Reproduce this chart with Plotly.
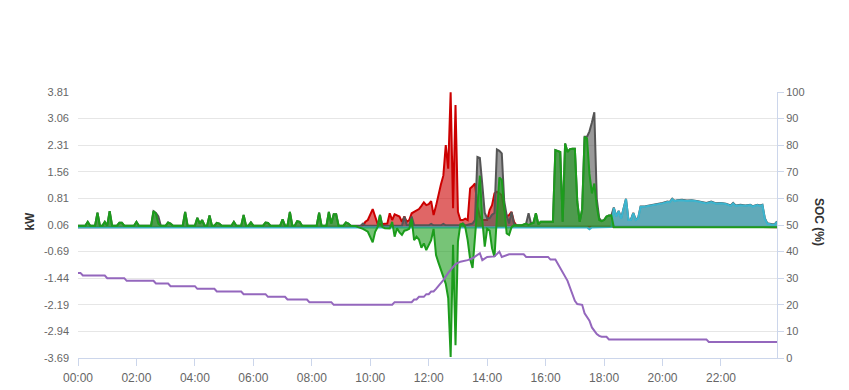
import plotly.graph_objects as go

DAY = "2024-01-01 "

# ---------------- data ----------------
# Battery power (kW): + discharge, - charge
BAT_T = ["00:00","00:15","00:20","00:25","00:35","00:40","00:45","00:50","00:55","01:00",
         "01:05","01:10","01:20","01:25","01:30","01:35","01:55","02:00","02:05","02:30",
         "02:35","02:40","02:45","02:50","03:00","03:05","03:10","03:15","03:35","03:40",
         "03:45","04:00","04:05","04:10","04:15","04:20","04:25","04:30","04:35","04:40",
         "04:45","04:50","04:55","05:15","05:20","05:25","05:35","05:40","05:45","05:50",
         "05:55","06:00","06:20","06:25","06:30","06:35","06:55","07:00","07:05","07:10",
         "07:15","07:20","07:25","07:30","07:35","07:40","08:10","08:15","08:20","08:30",
         "08:35","08:40","08:45","08:50","08:55","09:05","09:10","09:15","09:20","09:30",
         "09:35","09:45","09:55","10:05","10:10","10:15","10:20","10:25","10:30","10:40",
         "10:45","10:50","10:55","11:00","11:05","11:10","11:15","11:20","11:25","11:30",
         "11:35","11:40","11:45","11:50","11:55","12:00","12:05","12:10","12:15","12:20",
         "12:25","12:30","12:35","12:40","12:45","12:50","12:55","13:00","13:05","13:10",
         "13:15","13:20","13:25","13:30","13:35","13:40","13:45","13:50","13:55","14:00",
         "14:05","14:10","14:15","14:20","14:25","14:30","14:35","14:40","14:45","14:50",
         "14:55","15:10","15:20","15:25","15:30","15:35","15:40","15:45","15:50","16:15",
         "16:20","16:25","16:30","16:35","16:40","16:45","16:50","16:55","17:00","17:05",
         "17:10","17:15","17:20","17:25","17:30","17:35","17:40","17:45","17:50","17:55",
         "18:00","18:05","18:10","18:15","18:20","23:55"]
BAT_KW = [0.04,0.04,0.15,0.04,0.04,0.41,0.04,0.04,0.15,0.04,
          0.45,0.04,0.04,0.12,0.12,0.04,0.04,0.15,0.04,0.04,
          0.45,0.38,0.10,0.04,0.04,0.13,0.10,0.04,0.04,0.43,
          0.04,0.04,0.26,0.10,0.20,0.04,0.04,0.33,0.04,0.04,
          0.12,0.10,0.04,0.04,0.15,0.04,0.04,0.34,0.04,0.04,
          0.13,0.04,0.04,0.13,0.12,0.04,0.04,0.22,0.04,0.04,
          0.43,0.04,0.04,0.17,0.15,0.04,0.04,0.41,0.04,0.04,
          0.43,0.10,0.36,0.36,0.04,0.04,0.13,0.10,0.04,0.03,
          0.00,-0.05,-0.13,-0.43,-0.13,0.00,0.34,0.00,-0.03,-0.04,
          0.15,-0.27,-0.03,-0.15,-0.22,-0.10,-0.08,-0.05,0.24,-0.37,
          -0.27,-0.35,-0.58,-0.46,-0.65,-0.50,-0.37,-0.05,-0.79,-1.00,
          -1.20,-1.40,-1.60,-2.00,-3.66,-0.50,-3.33,-0.41,0.08,0.10,
          0.00,-0.37,-0.90,-1.15,-0.30,0.50,1.45,0.20,-0.55,-0.05,
          -0.10,-0.60,-0.84,0.30,1.40,1.33,0.57,-0.18,-0.22,0.00,
          0.05,0.05,0.10,0.06,0.10,0.12,0.39,0.08,0.15,0.15,
          2.17,2.15,2.12,0.15,2.36,2.12,2.20,2.21,2.21,0.71,
          0.15,0.50,2.55,2.50,1.50,0.95,1.23,0.60,0.20,0.17,
          0.20,0.30,0.33,0.33,0.00,0.00]

# House load (kW)
LOAD_T = ["00:00","00:15","00:20","00:25","00:35","00:40","00:45","00:50","00:55","01:00",
          "01:05","01:10","01:20","01:25","01:30","01:35","01:55","02:00","02:05","02:30",
          "02:35","02:40","02:45","02:50","03:00","03:05","03:10","03:15","03:35","03:40",
          "03:45","04:00","04:05","04:10","04:15","04:20","04:25","04:30","04:35","04:40",
          "04:45","04:50","04:55","05:15","05:20","05:25","05:35","05:40","05:45","05:50",
          "05:55","06:00","06:20","06:25","06:30","06:35","06:55","07:00","07:05","07:10",
          "07:15","07:20","07:25","07:30","07:35","07:40","08:10","08:15","08:20","08:30",
          "08:35","08:40","08:45","08:50","08:55","09:05","09:10","09:15","09:20","09:30",
          "09:40","09:45","09:50","10:15","10:20","10:25","11:05","11:10","11:15","11:20",
          "11:25","11:30","12:00","12:05","12:10","12:25","12:30","12:35","13:05","13:10",
          "13:15","13:30","13:35","13:40","13:45","13:50","13:55","14:00","14:05","14:10",
          "14:15","14:20","14:25","14:30","14:35","14:40","14:45","14:50","14:55","15:00",
          "15:10","15:20","15:25","15:30","15:35","15:40","15:45","15:50","16:15","16:20",
          "16:25","16:30","16:35","16:40","16:45","16:50","16:55","17:00","17:05","17:10",
          "17:15","17:20","17:25","17:30","17:35","17:40","17:45","17:50","17:55","18:00",
          "18:05","18:10","18:15","18:20","18:25","18:30","18:35","18:40","18:45","18:50",
          "18:55","19:00","19:05","19:10","19:15","19:25","19:35","19:45","19:55","20:00",
          "20:10","20:15","20:20","20:25","20:30","20:40","20:50","21:00","21:10","21:20",
          "21:30","21:40","21:50","22:00","22:10","22:20","22:25","22:30","22:40","22:50",
          "23:00","23:05","23:15","23:20","23:25","23:30","23:35","23:45","23:50","23:55"]
LOAD_KW = [0.04,0.04,0.15,0.04,0.04,0.41,0.04,0.04,0.15,0.04,
           0.45,0.04,0.04,0.12,0.12,0.04,0.04,0.15,0.04,0.04,
           0.45,0.40,0.30,0.04,0.04,0.13,0.10,0.04,0.04,0.43,
           0.04,0.04,0.26,0.10,0.20,0.04,0.04,0.33,0.04,0.04,
           0.12,0.10,0.04,0.04,0.15,0.04,0.04,0.34,0.04,0.04,
           0.13,0.04,0.04,0.13,0.12,0.04,0.04,0.22,0.04,0.04,
           0.43,0.04,0.04,0.17,0.15,0.04,0.04,0.41,0.04,0.04,
           0.43,0.10,0.36,0.36,0.04,0.04,0.13,0.10,0.04,0.04,
           0.04,0.10,0.04,0.04,0.34,0.04,0.04,0.30,0.05,0.05,
           0.30,0.05,0.05,0.09,0.05,0.05,0.09,0.05,0.05,0.10,
           0.05,0.10,0.20,1.98,1.95,1.20,0.40,0.25,0.25,0.35,
           0.40,2.19,2.15,2.08,0.73,0.34,0.10,0.43,0.10,0.05,
           0.05,0.10,0.39,0.10,0.12,0.39,0.08,0.15,0.15,2.17,
           2.15,2.12,0.15,2.36,2.12,2.20,2.21,2.21,0.71,0.15,
           0.50,2.55,2.55,2.70,2.95,3.24,0.80,0.25,0.17,0.20,
           0.30,0.33,0.33,0.55,0.31,0.46,0.25,0.51,0.80,0.21,
           0.21,0.40,0.21,0.26,0.58,0.59,0.61,0.63,0.67,0.68,
           0.72,0.71,0.80,0.74,0.76,0.77,0.75,0.76,0.74,0.71,
           0.68,0.72,0.67,0.68,0.66,0.61,0.68,0.61,0.63,0.61,
           0.63,0.59,0.63,0.61,0.63,0.25,0.11,0.08,0.08,0.16]

# PV production (kW)
PV_T = ["00:00","09:35","09:40","09:45","09:50","09:55","10:00","10:05","10:10","10:15",
        "10:20","10:30","10:35","10:40","10:45","10:50","10:55","11:00","11:05","11:10",
        "11:15","11:20","11:25","11:30","11:35","11:40","11:45","11:50","11:55","12:00",
        "12:05","12:10","12:15","12:20","12:25","12:30","12:35","12:40","12:45","12:50",
        "12:55","13:00","13:05","13:10","13:15","13:20","13:25","13:30","13:35","13:40",
        "13:45","13:50","13:55","14:00","14:05","14:10","14:15","14:20","14:25","14:30",
        "14:35","14:40","14:45","14:50","14:55","15:00","15:05","16:00","16:05","23:55"]
PV_KW = [0.00,0.00,0.02,0.05,0.15,0.20,0.35,0.51,0.30,0.10,
         0.08,0.08,0.10,0.39,0.20,0.36,0.32,0.30,0.15,0.30,
         0.15,0.20,0.39,0.43,0.48,0.51,0.60,0.70,0.62,0.65,
         0.73,0.34,0.60,0.95,1.20,1.45,2.31,1.65,3.80,0.53,
         3.44,0.43,0.20,0.20,0.24,0.20,1.09,1.15,1.23,0.57,
         0.30,0.20,0.20,0.20,0.48,0.62,0.95,1.00,0.95,0.90,
         0.50,0.30,0.34,0.43,0.15,0.05,0.02,0.02,0.00,0.00]

# Grid import (kW)
GRID_T = ["00:00","17:25","17:30","17:35","18:15","18:20","18:25","18:30","18:35","18:40",
          "18:45","18:50","18:55","19:00","19:05","19:10","19:15","19:25","19:35","19:45",
          "19:55","20:00","20:10","20:15","20:20","20:25","20:30","20:40","20:50","21:00",
          "21:10","21:20","21:30","21:40","21:50","22:00","22:10","22:20","22:25","22:30",
          "22:40","22:50","23:00","23:05","23:15","23:20","23:25","23:30","23:35","23:45",
          "23:50","23:55"]
GRID_KW = [-0.01,-0.01,-0.06,-0.01,0.00,0.54,0.30,0.45,0.24,0.50,
           0.79,0.20,0.20,0.39,0.20,0.25,0.57,0.58,0.60,0.62,
           0.66,0.67,0.71,0.70,0.79,0.73,0.75,0.76,0.74,0.75,
           0.73,0.70,0.67,0.71,0.66,0.67,0.65,0.60,0.67,0.60,
           0.62,0.60,0.62,0.58,0.62,0.60,0.62,0.24,0.10,0.07,
           0.07,0.15]

# Battery state of charge (%)
SOC_T = ["00:00","00:05","00:10","00:55","01:00","01:35","01:40","02:35","02:40","03:05",
         "03:10","04:00","04:05","04:40","04:45","05:35","05:40","06:25","06:30","07:05",
         "07:10","07:50","07:55","08:40","08:45","10:45","10:50","11:25","11:30","11:35",
         "11:40","11:50","11:55","12:00","12:05","12:10","12:15","12:20","12:30","12:40",
         "12:45","12:55","13:05","13:20","13:30","13:40","13:45","13:50","14:00","14:15",
         "14:25","14:30","14:45","15:15","15:20","16:05","16:10","16:20","16:30","16:45",
         "17:00","17:05","17:15","17:20","17:30","17:35","17:45","17:50","17:55","18:05",
         "18:10","21:30","21:35","23:55"]
SOC = [32,32,31,31,30,30,29,29,28,28,
       27,27,26,26,25,25,24,24,23,23,
       22,22,21,21,20,20,21,21,22,22,
       23,23,24,24,25,25,26,27,29.3,32,
       33,35.3,36.2,36.8,37.5,38.7,39.4,36.8,38,38.2,
       40,38,39,39,38,38,37,37,34,29,
       21.5,20.3,20,16.8,14,11.5,9,8.3,8,8,
       7,7,6,6]

KW_TICKS = [3.81, 3.06, 2.31, 1.56, 0.81, 0.06, -0.69, -1.44, -2.19, -2.94, -3.69]
SOC_TICKS = [0, 10, 20, 30, 40, 50, 60, 70, 80, 90, 100]
X_TICKS = ["00:00","02:00","04:00","06:00","08:00","10:00","12:00","14:00","16:00","18:00","20:00","22:00"]


def dt(ts):
    return [DAY + t for t in ts]


fig = go.Figure()


def area(ts, vals, line, fill):
    fig.add_trace(go.Scatter(x=dt(ts), y=vals, mode="lines", fill="tozeroy",
                             line=dict(color=line, width=2), fillcolor=fill,
                             hoverinfo="skip", showlegend=False))


area(PV_T, PV_KW, "#cc0000", "rgba(204,0,0,0.6)")
area(LOAD_T, LOAD_KW, "#555555", "rgba(85,85,85,0.6)")
area(GRID_T, GRID_KW, "#3cb5cf", "rgba(60,181,207,0.6)")
area(BAT_T, BAT_KW, "#1c9c1c", "rgba(28,156,28,0.6)")

fig.add_trace(go.Scatter(x=dt(SOC_T), y=SOC, mode="lines", yaxis="y2",
                         line=dict(color="#9467bd", width=2),
                         hoverinfo="skip", showlegend=False))

fig.update_layout(
    template="none",
    width=849, height=390,
    margin=dict(l=78, r=72, t=92, b=32, pad=0),
    paper_bgcolor="white", plot_bgcolor="white",
    font=dict(family="Liberation Sans, Arial, sans-serif", size=11, color="#666666"),
    showlegend=False,
    xaxis=dict(type="date", range=[DAY + "00:00", DAY + "23:55"], automargin=False,
               tickvals=dt(X_TICKS), ticktext=X_TICKS,
               showgrid=False, zeroline=False, showline=True, linecolor="#ccd6eb",
               ticks="outside", ticklen=7, tickcolor="#ccd6eb", ticklabelstandoff=2,
               tickfont=dict(size=12, color="#666666")),
    yaxis=dict(range=[-3.69, 3.81], tickvals=KW_TICKS, automargin=False,
               ticktext=["%.2f" % v for v in KW_TICKS],
               showgrid=True, gridcolor="#e6e6e6", zeroline=False, showline=False,
               ticks="", ticklabelstandoff=8,
               tickfont=dict(size=11, color="#666666")),
    yaxis2=dict(range=[0, 100], tickvals=SOC_TICKS, overlaying="y", side="right",
                automargin=False,
                showgrid=False, zeroline=False, showline=True, linecolor="#ccd6eb",
                ticks="outside", ticklen=6, tickcolor="#ccd6eb",
                tickfont=dict(size=11, color="#666666")),
    annotations=[
        dict(text="<b>kW</b>", xref="paper", yref="paper", x=-0.07, y=0.513,
             xanchor="center", yanchor="middle",
             textangle=-90, showarrow=False, font=dict(size=12, color="#333333")),
        dict(text="<b>SOC (%)</b>", xref="paper", yref="paper", x=1.061, y=0.513,
             xanchor="center", yanchor="middle",
             textangle=90, showarrow=False, font=dict(size=12, color="#333333")),
    ],
)

fig.write_html("out.html")
